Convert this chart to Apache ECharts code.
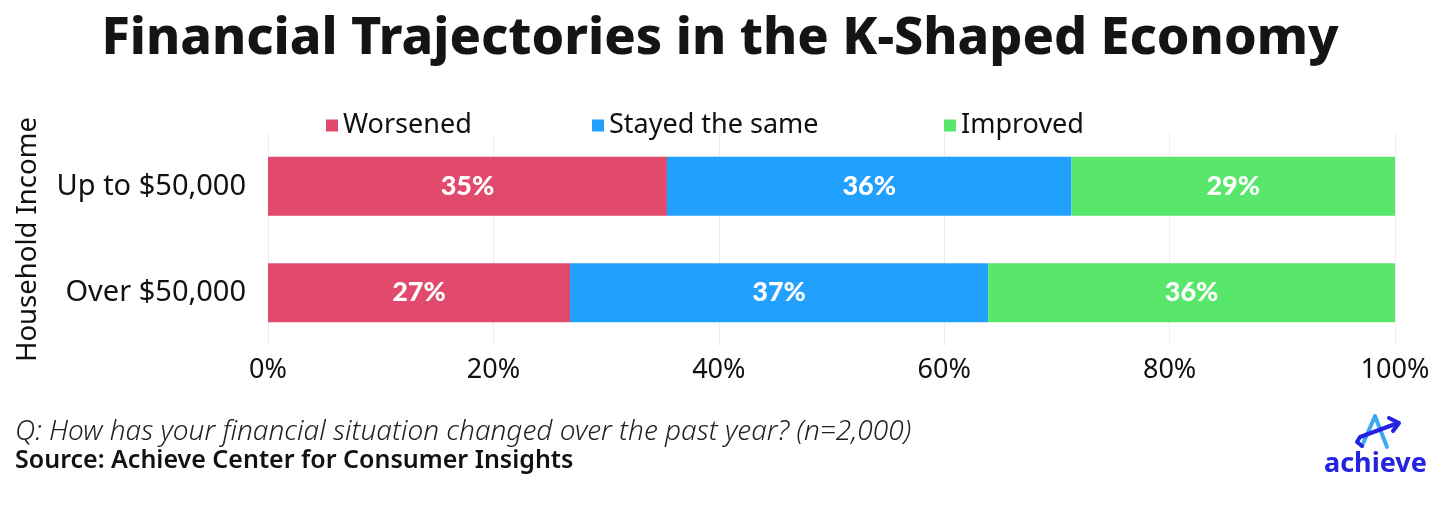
<!DOCTYPE html>
<html>
<head>
<meta charset="utf-8">
<script src="https://cdn.jsdelivr.net/npm/echarts@6/dist/echarts.min.js"></script>
<style>
html,body{margin:0;padding:0;background:#fff;}
#chart{width:1440px;height:513px;}
</style>
</head>
<body>
<div id="chart"></div>
<script>
var categories = ['Up to $50,000', 'Over $50,000'];
var seriesNames = ['Worsened', 'Stayed the same', 'Improved'];
var worsened = [35.4, 26.8];
var stayedSame = [35.9, 37.1];
var improved = [28.7, 36.1];
var xTicks = [0, 20, 40, 60, 80, 100];

var colors = ['#E14A6C', '#22A0FE', '#58E66B'];
var FONT = '"Noto Sans"';

var chart = echarts.init(document.getElementById('chart'), null, {renderer: 'canvas'});

function mkSeries(name, data, color) {
  return {
    name: name,
    type: 'bar',
    stack: 'total',
    data: data,
    barWidth: 59,
    itemStyle: {color: color},
    label: {
      show: true,
      position: 'inside',
      color: '#fff',
      fontFamily: 'Lato',
      fontWeight: 900,
      fontSize: 27,
      formatter: function (p) { return Math.round(p.value) + '%'; }
    },
    emphasis: {disabled: true}
  };
}

function mkLegend(name, left) {
  return {
    data: [name],
    left: left,
    top: 107,
    icon: 'rect',
    itemWidth: 12,
    itemHeight: 12,
    itemGap: 0,
    textStyle: {fontFamily: FONT, fontSize: 27, color: '#111'},
    selectedMode: false
  };
}

var option = {
  animation: false,
  backgroundColor: '#fff',
  color: colors,
  title: [
    {
      text: 'Financial Trajectories in the K-Shaped Economy',
      left: 'center',
      top: 8,
      textStyle: {fontFamily: FONT, fontWeight: 800, fontSize: 52, color: '#141414'}
    },
    {
      text: 'Q: How has your financial situation changed over the past year? (n=2,000)',
      left: 10,
      top: 413,
      textStyle: {fontFamily: FONT, fontStyle: 'italic', fontWeight: 300, fontSize: 28, color: '#222'}
    },
    {
      text: 'Source: Achieve Center for Consumer Insights',
      left: 10,
      top: 443,
      textStyle: {fontFamily: FONT, fontWeight: 600, fontSize: 25, color: '#111'}
    }
  ],
  legend: [
    mkLegend(seriesNames[0], 321),
    mkLegend(seriesNames[1], 587),
    mkLegend(seriesNames[2], 939)
  ],
  grid: {left: 268, right: 45, top: 133, height: 213, containLabel: false},
  xAxis: {
    type: 'value',
    min: 0,
    max: 100,
    interval: 20,
    axisLine: {show: false},
    axisTick: {show: false},
    splitLine: {show: true, lineStyle: {color: '#eeeeee', width: 1}},
    axisLabel: {
      fontFamily: FONT,
      fontSize: 27,
      color: '#111',
      margin: 11,
      formatter: function (v) { return xTicks.indexOf(v) >= 0 ? v + '%' : ''; }
    }
  },
  yAxis: {
    type: 'category',
    data: categories,
    inverse: true,
    axisLine: {show: false},
    axisTick: {show: false},
    axisLabel: {fontFamily: FONT, fontSize: 29, color: '#111', margin: 22},
    name: 'Household Income',
    nameLocation: 'middle',
    nameRotate: 90,
    nameGap: 226,
    nameTextStyle: {fontFamily: FONT, fontSize: 27.5, color: '#111'}
  },
  series: [
    mkSeries(seriesNames[0], worsened, colors[0]),
    mkSeries(seriesNames[1], stayedSame, colors[1]),
    mkSeries(seriesNames[2], improved, colors[2])
  ],
  graphic: [
    {
      type: 'polyline',
      shape: {points: [[1362, 446], [1375, 416], [1387, 447]]},
      style: {stroke: '#3FA9F5', lineWidth: 4, fill: null, lineCap: 'round', lineJoin: 'round'}
    },
    {
      type: 'polyline',
      shape: {points: [[1362, 446], [1357, 442], [1360, 437], [1398, 423]]},
      style: {stroke: '#2323E0', lineWidth: 4, fill: null, lineCap: 'round', lineJoin: 'round'}
    },
    {
      type: 'polyline',
      shape: {points: [[1389, 418], [1399, 423], [1393, 431]]},
      style: {stroke: '#2323E0', lineWidth: 4, fill: null, lineCap: 'round', lineJoin: 'round'}
    },
    {
      type: 'text',
      left: 1324,
      top: 451,
      style: {text: 'achieve', fontFamily: FONT, fontWeight: 700, fontSize: 27, fill: '#2323E0'}
    }
  ]
};
chart.setOption(option);
</script>
</body>
</html>
